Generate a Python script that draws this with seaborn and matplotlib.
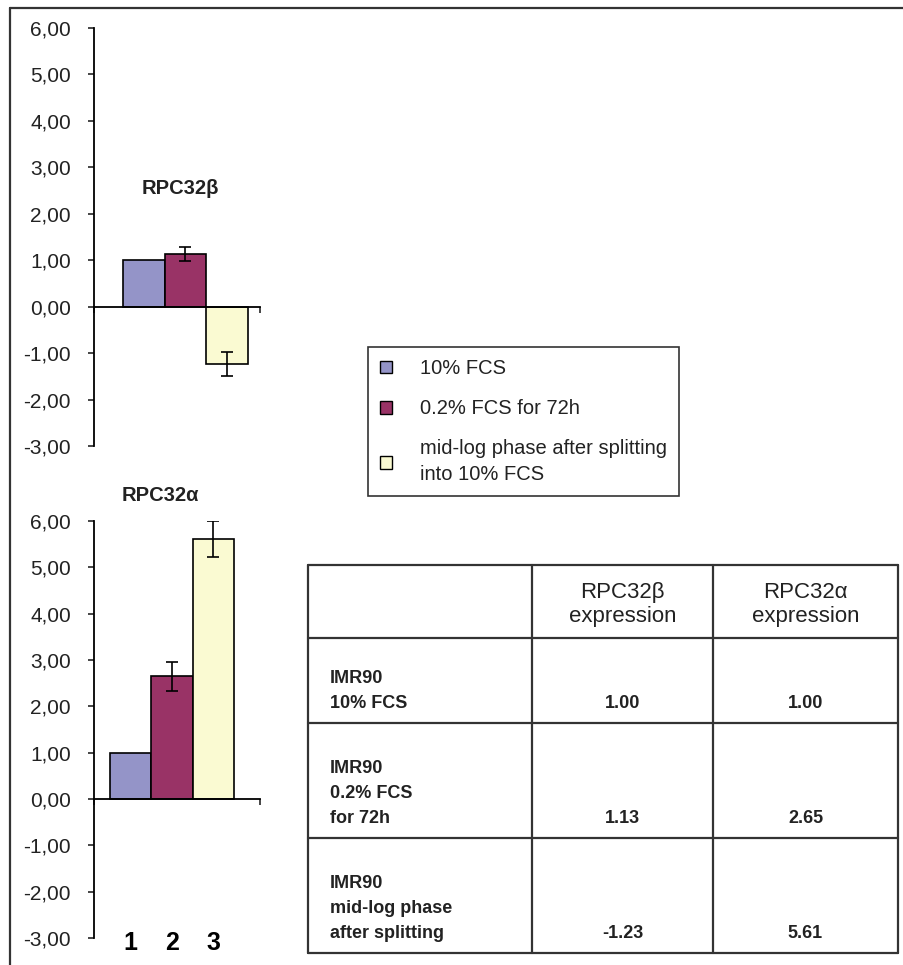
import numpy as np
import pandas as pd
import seaborn as sns
import matplotlib.pyplot as plt
from matplotlib.patches import Patch
from matplotlib.lines import Line2D
from matplotlib.ticker import FuncFormatter
from matplotlib.transforms import blended_transform_factory

# Data
lanes = ["1", "2", "3"]
conditions = ["10% FCS", "0.2% FCS for 72h",
              "mid-log phase after splitting\ninto 10% FCS"]
beta_vals = [1.00, 1.13, -1.23]
beta_err = [0.0, 0.15, 0.26]
alpha_vals = [1.00, 2.65, 5.61]
alpha_err = [0.0, 0.31, 0.38]
colors = ["#9494c8", "#993366", "#fafad2"]

# Table text
col_headers = ["", "RPC32β\nexpression", "RPC32α\nexpression"]
row_labels = ["IMR90\n10% FCS", "IMR90\n0.2% FCS\nfor 72h",
              "IMR90\nmid-log phase\nafter splitting"]

sns.set_style("white")
plt.rcParams["font.family"] = ["Liberation Sans", "DejaVu Sans"]
plt.rcParams["text.color"] = "#222222"

W, H = 904, 965
fig = plt.figure(figsize=(W / 100, H / 100), dpi=100)


def px_axes(x0, y0, x1, y1):
    # pixel box (top-left origin) -> figure axes
    return fig.add_axes([x0 / W, 1 - y1 / H, (x1 - x0) / W, (y1 - y0) / H])


def draw_panel(ax, vals, errs, xlim):
    df = pd.DataFrame({"lane": lanes, "cond": conditions, "val": vals})
    sns.barplot(data=df, x="lane", y="val", hue="cond", palette=colors,
                dodge=False, width=1.0, saturation=1, edgecolor="black",
                linewidth=1.2, legend=False, ax=ax)
    idx = [i for i, e in enumerate(errs) if e > 0]
    ax.errorbar(idx, [vals[i] for i in idx], yerr=[errs[i] for i in idx],
                fmt="none", ecolor="black", elinewidth=1.2, capsize=4.5,
                capthick=1.2, zorder=5)
    ax.set_xlim(xlim)
    ax.set_ylim(-3, 6)
    ax.set_yticks(np.arange(-3, 7, 1))
    ax.yaxis.set_major_formatter(FuncFormatter(lambda v, p: f"{v:.2f}".replace(".", ",")))
    ax.set_xticks(list(xlim))
    ax.set_xticklabels(["", ""])
    ax.set_xlabel("")
    ax.set_ylabel("")
    for s in ["top", "right"]:
        ax.spines[s].set_visible(False)
    ax.spines["bottom"].set_position(("data", 0))
    for s in ["left", "bottom"]:
        ax.spines[s].set_color("black")
        ax.spines[s].set_linewidth(1.3)
    ax.tick_params(axis="y", direction="out", length=4.5, width=1.2,
                   pad=12, labelsize=15, labelcolor="#222222", left=True)
    ax.tick_params(axis="x", direction="out", length=4.5, width=1.2, bottom=True)
    ax.patch.set_alpha(0)


ax_top = px_axes(94, 28, 260, 446)
draw_panel(ax_top, beta_vals, beta_err, (-1.195, 2.79))
ax_top.text(0.518, 0.617, "RPC32β", transform=ax_top.transAxes,
            ha="center", va="center", fontsize=14.5, fontweight="bold")

ax_bot = px_axes(94, 521, 260, 938)
draw_panel(ax_bot, alpha_vals, alpha_err, (-0.887, 3.13))
ax_bot.text(0.398, 1.062, "RPC32α", transform=ax_bot.transAxes,
            ha="center", va="center", fontsize=14.5, fontweight="bold")
trans = blended_transform_factory(ax_bot.transData, ax_bot.transAxes)
for i, lab in enumerate(lanes):
    ax_bot.text(i, -0.012, lab, transform=trans, ha="center", va="center",
                fontsize=18, fontweight="bold", color="black")

# Legend
handles = [Patch(facecolor=c, edgecolor="black", linewidth=1.0) for c in colors]
leg = fig.legend(handles, conditions, loc="upper left",
                 bbox_to_anchor=(368 / W, 1 - 347 / H), frameon=True,
                 fancybox=False, edgecolor="black", fontsize=14.5,
                 handlelength=0.6, handleheight=0.6, handletextpad=1.4,
                 labelspacing=1.05, borderpad=0.6, borderaxespad=0)
leg.get_frame().set_linewidth(1.2)
for t in leg.get_texts():
    t.set_linespacing(1.45)

# Table
col_w = [224, 181, 185]
row_h = [73, 85, 115, 115]
tw, th = sum(col_w), sum(row_h)
ax_t = px_axes(308, 565, 308 + tw, 565 + th)
ax_t.set_xlim(0, tw)
ax_t.set_ylim(th, 0)
ax_t.axis("off")
xs = np.concatenate([[0], np.cumsum(col_w)])
ys = np.concatenate([[0], np.cumsum(row_h)])
for x in xs:
    ax_t.plot([x, x], [0, th], color="#333333", lw=1.6, clip_on=False)
for y in ys:
    ax_t.plot([0, tw], [y, y], color="#333333", lw=1.6, clip_on=False)

for j in range(1, 3):
    ax_t.text((xs[j] + xs[j + 1]) / 2, ys[1] / 2 + 3, col_headers[j],
              ha="center", va="center", fontsize=16, linespacing=1.2)

for i in range(3):
    yb = ys[i + 2] - 11
    ax_t.text(22, yb, row_labels[i], ha="left", va="bottom", fontsize=13,
              fontweight="bold", linespacing=1.6)
    ax_t.text((xs[1] + xs[2]) / 2, yb, f"{beta_vals[i]:.2f}", ha="center",
              va="bottom", fontsize=13, fontweight="bold")
    ax_t.text((xs[2] + xs[3]) / 2, yb, f"{alpha_vals[i]:.2f}", ha="center",
              va="bottom", fontsize=13, fontweight="bold")

# outer frame (top and left edges only visible in the crop)
fig.add_artist(Line2D([10 / W, 1], [1 - 8 / H, 1 - 8 / H], color="#333333", lw=1.6))
fig.add_artist(Line2D([10 / W, 10 / W], [0, 1 - 8 / H], color="#333333", lw=1.6))

fig.savefig("out.png", dpi=100)
